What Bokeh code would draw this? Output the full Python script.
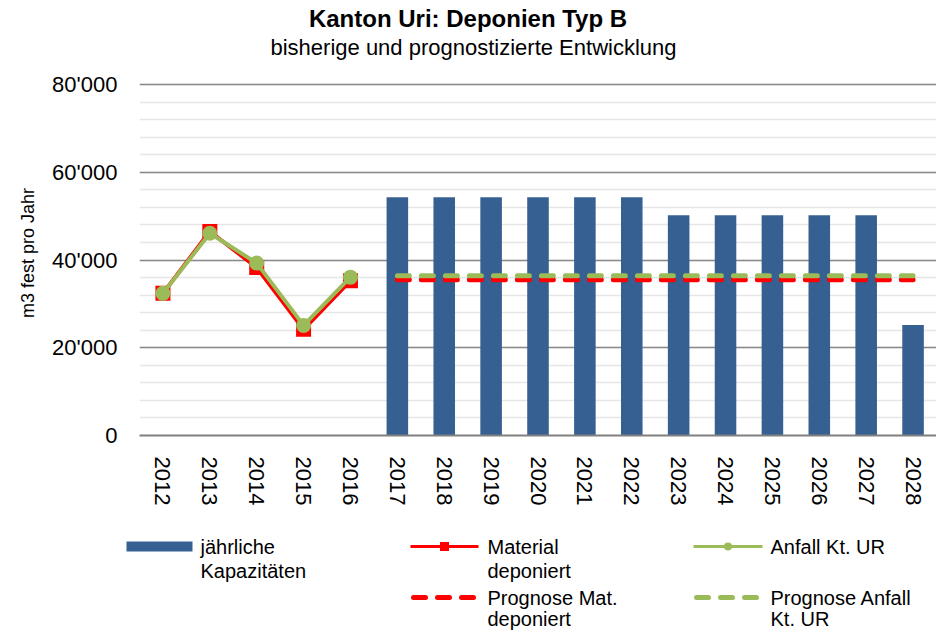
from bokeh.plotting import figure
from bokeh.models import Range1d, FactorRange, SingleIntervalTicker
from bokeh.embed import file_html
from bokeh.resources import INLINE
from bokeh.core.properties import value

# ---------------- data ----------------
title_text = "Kanton Uri: Deponien Typ B"
subtitle_text = "bisherige und prognostizierte Entwicklung"
y_label = "m3 fest pro Jahr"

years = ["2012", "2013", "2014", "2015", "2016", "2017", "2018", "2019", "2020",
         "2021", "2022", "2023", "2024", "2025", "2026", "2027", "2028"]

hist_years = ["2012", "2013", "2014", "2015", "2016"]
material_deponiert = [32400, 46500, 38300, 24200, 35300]
anfall_ur = [32400, 46100, 39300, 25100, 36100]

cap_years = ["2017", "2018", "2019", "2020", "2021", "2022", "2023", "2024",
             "2025", "2026", "2027", "2028"]
kapazitaeten = [54300, 54300, 54300, 54300, 54300, 54300, 50200, 50200,
                50200, 50200, 50200, 25200]
prognose_mat = [35500, 35500, 35500, 35500, 35500, 35500, 35500, 35500,
                35500, 35500, 35500, 35500]
prognose_anfall = [36400, 36400, 36400, 36400, 36400, 36400, 36400, 36400,
                   36400, 36400, 36400, 36400]

y_ticks = [0, 20000, 40000, 60000, 80000]
y_tick_labels = ["0", "20'000", "40'000", "60'000", "80'000"]

legend_bar = ["jährliche", "Kapazitäten"]
legend_mat = ["Material", "deponiert"]
legend_anfall = ["Anfall Kt. UR"]
legend_prog_mat = ["Prognose Mat.", "deponiert"]
legend_prog_anfall = ["Prognose Anfall", "Kt. UR"]

# ---------------- styles ----------------
FONT = "Liberation Sans"
BLUE = "#376092"
RED = "#FF0000"
GREEN = "#9BBB59"
W = 936

# ---------------- header ----------------
HH = 70
header = figure(width=W, height=HH, x_range=Range1d(0, W), y_range=Range1d(HH, 0),
                output_backend="svg", toolbar_location=None,
                x_axis_location=None, y_axis_location=None, min_border=0)
header.outline_line_color = None
header.grid.visible = False
header.text(x=[467.5], y=[18], text=[title_text], text_font=value(FONT),
            text_font_size="24px", text_font_style="bold", text_align="center",
            text_baseline="middle", text_color="black")
header.text(x=[473], y=[47], text=[subtitle_text], text_font=value(FONT),
            text_font_size="22px", text_align="center",
            text_baseline="middle", text_color="black")

# ---------------- main chart ----------------
# frame spans 365 px; the top of the y range leaves room above the 80'000 line
p = figure(width=W, height=441, x_range=FactorRange(*years, range_padding=0),
           y_range=Range1d(0, 83200), output_backend="svg", toolbar_location=None,
           min_border_left=139, min_border_right=0, min_border_top=0,
           min_border_bottom=76)
p.outline_line_color = None

p.yaxis.ticker = SingleIntervalTicker(interval=20000, num_minor_ticks=5)
p.yaxis.major_label_overrides = dict(zip(y_ticks, y_tick_labels))
p.yaxis.axis_line_color = None
p.yaxis.major_tick_line_color = None
p.yaxis.minor_tick_line_color = None
p.yaxis.major_label_standoff = 16
p.yaxis.major_label_text_font = FONT
p.yaxis.major_label_text_font_size = "22px"
p.yaxis.major_label_text_color = "black"
p.yaxis.axis_label = y_label
p.yaxis.axis_label_text_font = FONT
p.yaxis.axis_label_text_font_size = "18px"
p.yaxis.axis_label_text_font_style = "normal"
p.yaxis.axis_label_text_color = "black"
p.yaxis.axis_label_standoff = 11

p.xaxis.axis_line_color = "#808080"
p.xaxis.axis_line_width = 2
p.xaxis.major_tick_line_color = None
p.xaxis.minor_tick_line_color = None
p.xaxis.major_label_orientation = "vertical"
p.xaxis.major_label_standoff = 15
p.xaxis.major_label_text_font = FONT
p.xaxis.major_label_text_font_size = "22px"
p.xaxis.major_label_text_color = "black"

p.xgrid.visible = False
p.ygrid.grid_line_color = "#8a8a8a"
p.ygrid.grid_line_width = 1.5
p.ygrid.minor_grid_line_color = "#e6e6e6"
p.ygrid.minor_grid_line_width = 1.5

p.vbar(x=cap_years, top=kapazitaeten, width=0.46, bottom=0,
       fill_color=BLUE, line_color=None)

p.line(x=cap_years, y=prognose_mat, line_color=RED, line_width=5,
       line_dash="12 12", line_cap="round")
p.line(x=cap_years, y=prognose_anfall, line_color=GREEN, line_width=5,
       line_dash="12 12", line_cap="round")

p.line(x=hist_years, y=material_deponiert, line_color=RED, line_width=4)
p.scatter(x=hist_years, y=material_deponiert, marker="square", size=15,
          fill_color=RED, line_color=None)
p.line(x=hist_years, y=anfall_ur, line_color=GREEN, line_width=4)
p.scatter(x=hist_years, y=anfall_ur, marker="circle", size=15,
          fill_color=GREEN, line_color=None)

# ---------------- legend ----------------
LH = 120
lg = figure(width=W, height=LH, x_range=Range1d(0, W), y_range=Range1d(LH, 0),
            output_backend="svg", toolbar_location=None,
            x_axis_location=None, y_axis_location=None, min_border=0)
lg.outline_line_color = None
lg.grid.visible = False

rows = [35, 59, 86, 107]
col_sw = [(126, 192), (410, 478), (693, 762)]
col_tx = [200, 487, 770]


def leg_text(x, ys, lines):
    lg.text(x=[x] * len(lines), y=ys[:len(lines)], text=lines, text_font=value(FONT),
            text_font_size="20px", text_align="left", text_baseline="middle",
            text_color="black")


# bar swatch
lg.quad(left=[col_sw[0][0]], right=[col_sw[0][1]], top=[rows[0] - 5],
        bottom=[rows[0] + 5], fill_color=BLUE, line_color=None)
leg_text(col_tx[0], rows[0:2], legend_bar)

# Material deponiert
lg.line(x=list(col_sw[1]), y=[rows[0], rows[0]], line_color=RED, line_width=3)
lg.scatter(x=[(col_sw[1][0] + col_sw[1][1]) / 2], y=[rows[0]], marker="square",
           size=9, fill_color=RED, line_color=None)
leg_text(col_tx[1], rows[0:2], legend_mat)

# Anfall Kt. UR
lg.line(x=list(col_sw[2]), y=[rows[0], rows[0]], line_color=GREEN, line_width=3)
lg.scatter(x=[(col_sw[2][0] + col_sw[2][1]) / 2], y=[rows[0]], marker="circle",
           size=8, fill_color=GREEN, line_color=None)
leg_text(col_tx[2], rows[0:1], legend_anfall)

# Prognose Mat.
lg.line(x=[col_sw[1][0] + 3, col_sw[1][1]], y=[rows[2], rows[2]], line_color=RED,
        line_width=5, line_dash="12 12", line_cap="round")
leg_text(col_tx[1], rows[2:4], legend_prog_mat)

# Prognose Anfall
lg.line(x=[col_sw[2][0] + 3, col_sw[2][1]], y=[rows[2], rows[2]], line_color=GREEN,
        line_width=5, line_dash="12 12", line_cap="round")
leg_text(col_tx[2], rows[2:4], legend_prog_anfall)

open("out.html", "w").write(file_html([header, p, lg], INLINE))
